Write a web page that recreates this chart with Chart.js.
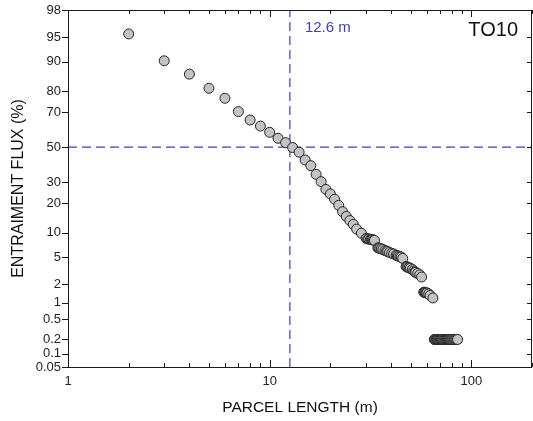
<!DOCTYPE html>
<html>
<head>
<meta charset="utf-8">
<script src="https://cdn.jsdelivr.net/npm/chart.js@4/dist/chart.umd.min.js"></script>
<style>
  html, body { margin: 0; padding: 0; background: #fff; overflow: hidden; }
  canvas { display: block; }
</style>
</head>
<body>
<canvas id="grafica" width="533" height="421"></canvas>
<script>
// Parcel lengths (m) and entrainment flux (%)
const parcelLength = [
  2, 3, 4, 5, 6, 7, 8, 9, 10, 11, 12, 13, 14, 15, 16, 17, 18, 19, 20, 21,
  22, 23, 24, 25, 26, 27, 28.5,
  30.1, 30.6, 31, 31.6, 32, 32.3, 32.7, 33.1,
  34.4, 34.8, 35.2, 35.8, 36.4, 37.3, 38, 38.5, 39.3, 40.3, 41.2, 42.4, 43, 43.5, 44.2, 44.9, 45.7,
  47.5, 48, 48.5, 49.2, 49.9, 51, 51.8, 52.5, 53, 54.2, 55.5, 56.7,
  58.1, 58.6, 59, 59.7, 60.3, 61.5, 62.5, 64.5,
  65.5, 66, 66.6, 67.2, 67.8, 68.4, 69, 69.6, 70.3, 71, 71.7, 72.4, 73.1, 73.8,
  74.5, 75.3, 76.1, 76.9, 77.7, 78.5, 79.3, 80.2, 81.1, 82, 82.9, 83.8, 84.7, 85.5
];
const entrainFlux = [
  95.5, 90.2, 86.3, 81.1, 76.8, 70.3, 65.8, 62.4, 58.8, 55.3, 52.7, 49.8, 47.0, 42.4, 39.1, 34.2, 30.3, 26.4, 24.2, 21.8,
  19.2, 16.7, 15.0, 13.6, 12.4, 11.0, 9.9,
  8.6, 8.5, 8.45, 8.4, 8.35, 8.3, 8.2, 8.15,
  6.6, 6.55, 6.5, 6.4, 6.3, 6.1, 6.0, 5.9, 5.75, 5.6, 5.5, 5.3, 5.2, 5.15, 5.05, 5.0, 4.8,
  3.7, 3.65, 3.6, 3.55, 3.5, 3.35, 3.2, 3.1, 3.05, 2.95, 2.8, 2.6,
  1.5, 1.49, 1.48, 1.46, 1.45, 1.4, 1.32, 1.2,
  0.2, 0.2, 0.2, 0.2, 0.2, 0.2, 0.2, 0.2, 0.2, 0.2, 0.2, 0.2, 0.2, 0.2,
  0.2, 0.2, 0.2, 0.2, 0.2, 0.2, 0.2, 0.2, 0.2, 0.2, 0.2, 0.2, 0.2, 0.2
];

const fluxTicks = [0.05, 0.1, 0.2, 0.5, 1, 2, 5, 10, 20, 30, 50, 70, 80, 90, 95, 98];
const lengthTicks = [1, 10, 100];
const lengthMin = 1, lengthMax = 200;
const cutLength = 12.6;   // 50% flux length
const cutFlux = 50;

// inverse normal CDF (Acklam)
function probit(p) {
    const a = [-39.69683028665376, 220.9460984245205, -275.9285104469687, 138.3577518672690, -30.66479806614716, 2.506628277459239];
    const b = [-54.47609879822406, 161.5858368580409, -155.6989798598866, 66.80131188771972, -13.28068155288572];
    const c = [-0.007784894002430293, -0.3223964580411365, -2.400758277161838, -2.549732539343734, 4.374664141464968, 2.938163982698783];
    const d = [0.007784695709041462, 0.3224671290700398, 2.445134137142996, 3.754408661907416];
    const pl = 0.02425;
    let q, r;
    if (p < pl) {
        q = Math.sqrt(-2 * Math.log(p));
        return (((((c[0]*q+c[1])*q+c[2])*q+c[3])*q+c[4])*q+c[5]) / ((((d[0]*q+d[1])*q+d[2])*q+d[3])*q+1);
    }
    if (p > 1 - pl) {
        q = Math.sqrt(-2 * Math.log(1 - p));
        return -(((((c[0]*q+c[1])*q+c[2])*q+c[3])*q+c[4])*q+c[5]) / ((((d[0]*q+d[1])*q+d[2])*q+d[3])*q+1);
    }
    q = p - 0.5; r = q * q;
    return (((((a[0]*r+a[1])*r+a[2])*r+a[3])*r+a[4])*r+a[5])*q / (((((b[0]*r+b[1])*r+b[2])*r+b[3])*r+b[4])*r+1);
}

// probability (probit) axis, values in percent
class ProbitScale extends Chart.Scale {
    determineDataLimits() {
        this.min = this.options.min;
        this.max = this.options.max;
    }
    buildTicks() {
        return fluxTicks.map(v => ({ value: v }));
    }
    configure() {
        super.configure();
        this._start = probit(this.min / 100);
        this._range = probit(this.max / 100) - this._start;
    }
    getLabelForValue(v) { return String(v); }
    getPixelForValue(v) {
        return this.getPixelForDecimal((probit(v / 100) - this._start) / this._range);
    }
    getValueForPixel(px) {
        const dec = this.getDecimalForPixel(px);
        const target = this._start + dec * this._range;
        let lo = 1e-6, hi = 100 - 1e-6;
        for (let i = 0; i < 60; i++) {
            const mid = (lo + hi) / 2;
            if (probit(mid / 100) < target) lo = mid; else hi = mid;
        }
        return (lo + hi) / 2;
    }
}
ProbitScale.id = 'probit';
ProbitScale.defaults = {};
Chart.register(ProbitScale);

const FONT = "'Liberation Sans', Arial, sans-serif";
const BLUE = '#3d3dc8';

// frame, inward ticks and labels
const marcoPlugin = {
    id: 'marco',
    afterDraw(chart) {
        const { ctx, chartArea: a, scales: { x, y } } = chart;
        ctx.save();
        ctx.strokeStyle = '#1a1a1a';
        ctx.lineWidth = 1;
        ctx.strokeRect(a.left + 0.5, a.top + 0.5, a.right - a.left - 1, a.bottom - a.top);

        ctx.beginPath();
        for (let dec = 1; dec <= 100; dec *= 10) {
            for (let k = 1; k <= 9; k++) {
                const v = k * dec;
                if (v > lengthMax) break;
                const px = Math.round(x.getPixelForValue(v)) + 0.5;
                const len = k === 1 ? 7 : 4;
                ctx.moveTo(px, a.bottom); ctx.lineTo(px, a.bottom - len);
                ctx.moveTo(px, a.top); ctx.lineTo(px, a.top + len);
            }
        }
        fluxTicks.forEach(v => {
            const py = Math.round(y.getPixelForValue(v)) + 0.5;
            ctx.moveTo(a.left - 6, py); ctx.lineTo(a.left, py);
            ctx.moveTo(a.right, py); ctx.lineTo(a.right - 5, py);
        });
        ctx.stroke();

        ctx.textBaseline = 'middle';
        ctx.fillStyle = BLUE;
        ctx.textAlign = 'left';
        ctx.font = '15px ' + FONT;
        ctx.fillText('12.6 m', x.getPixelForValue(cutLength) + 15, a.top + 18);

        ctx.fillStyle = '#111';
        ctx.textAlign = 'right';
        ctx.font = '20px ' + FONT;
        ctx.fillText('TO10', a.right - 14, a.top + 20);
        ctx.restore();
    }
};

const puntos = parcelLength.map((l, i) => ({ x: l, y: entrainFlux[i] }));

new Chart(document.getElementById('grafica'), {
    type: 'scatter',
    data: {
        datasets: [
            {
                data: puntos,
                backgroundColor: '#c3c3c3',
                borderColor: '#242424',
                borderWidth: 1,
                pointRadius: 5,
                order: 1
            },
            {
                data: [{ x: cutLength, y: fluxTicks[0] }, { x: cutLength, y: fluxTicks[fluxTicks.length - 1] }],
                showLine: true,
                borderColor: BLUE,
                borderWidth: 1.2,
                borderDash: [9, 5],
                pointRadius: 0,
                order: 2
            },
            {
                data: [{ x: lengthMin, y: cutFlux }, { x: lengthMax, y: cutFlux }],
                showLine: true,
                borderColor: BLUE,
                borderWidth: 1.2,
                borderDash: [9, 5],
                pointRadius: 0,
                order: 2
            }
        ]
    },
    options: {
        responsive: false,
        animation: false,
        layout: { autoPadding: false, padding: { left: 0, right: 1, top: 10, bottom: 0 } },
        plugins: {
            legend: { display: false },
            tooltip: { enabled: false }
        },
        scales: {
            x: {
                type: 'logarithmic',
                position: 'bottom',
                min: lengthMin,
                max: lengthMax,
                afterBuildTicks: s => { s.ticks = lengthTicks.map(v => ({ value: v })); },
                afterFit: s => {
                    s.height = 54;
                    s.paddingLeft = 0; s.paddingRight = 0;
                },
                grid: { display: false, drawTicks: false },
                border: { display: false },
                ticks: {
                    autoSkip: false,
                    maxRotation: 0,
                    padding: 7,
                    color: '#222',
                    font: { family: FONT, size: 13 },
                    callback: v => String(v)
                },
                title: {
                    display: true,
                    text: 'PARCEL LENGTH (m)',
                    color: '#111',
                    font: { family: FONT, size: 15.5 },
                    padding: { top: 0, bottom: 4 }
                }
            },
            y: {
                type: 'probit',
                position: 'left',
                min: 0.05,
                max: 98,
                afterFit: s => {
                    s.width = 68;
                    s.paddingTop = 0; s.paddingBottom = 0;
                },
                grid: { display: false, drawTicks: false },
                border: { display: false },
                ticks: {
                    autoSkip: false,
                    padding: 7,
                    color: '#222',
                    font: { family: FONT, size: 13 }
                },
                title: {
                    display: true,
                    text: 'ENTRAIMENT FLUX (%)',
                    color: '#111',
                    font: { family: FONT, size: 16 },
                    padding: { top: 9, bottom: 0 }
                }
            }
        }
    },
    plugins: [marcoPlugin]
});
</script>
</body>
</html>
